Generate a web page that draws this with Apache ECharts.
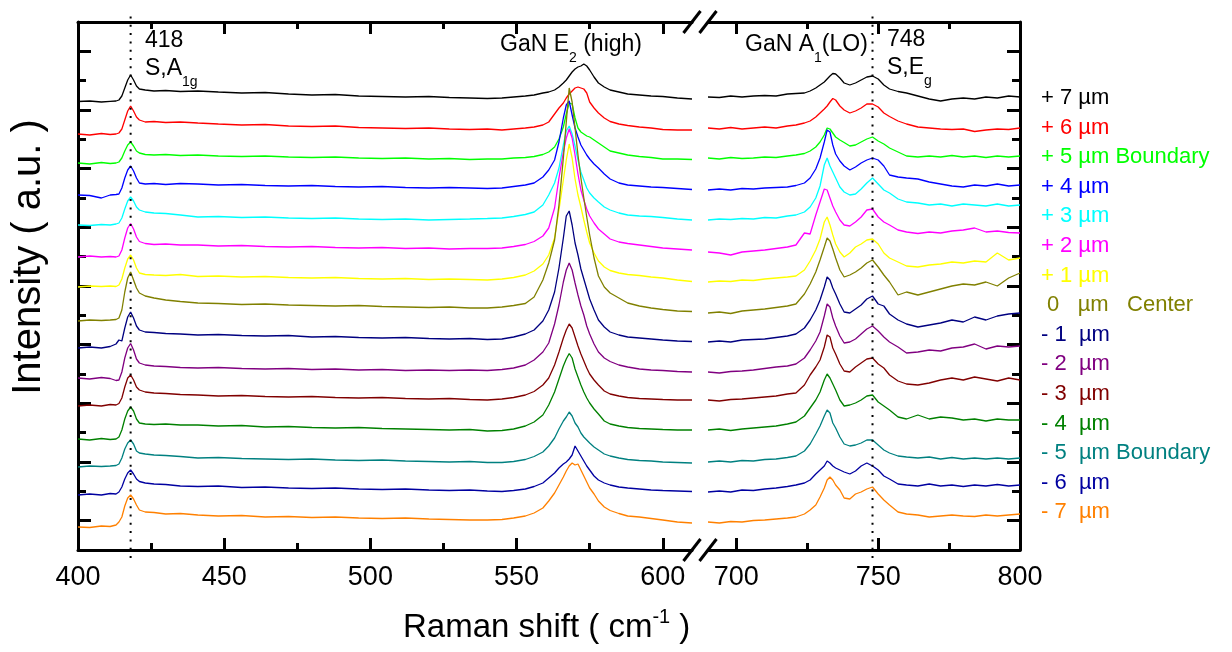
<!DOCTYPE html>
<html><head><meta charset="utf-8">
<script src="https://cdn.jsdelivr.net/npm/echarts@6/dist/echarts.min.js"></script>
<style>html,body{margin:0;padding:0;background:#fff}#c{width:1232px;height:652px}</style>
</head><body><div id="c"></div>
<script>
// ---------- data (Raman shift in cm^-1, intensity in a.u., traces stacked) ----------
const xLeft = [400,404,408,411,413,414,415,416,417,418,419,420,421,423,426,430,435,441,448,456,464,472,480,488,496,504,512,520,527,534,540,545,549,553,556,559,561,563,564.5,566,567,568,569,570,571,572,573,574,575,576.5,578,580,582,585,588,592,596,600,605,610];
const xRight = [690,694,698,702,706,710,714,718,721,724,726,728,729.5,731,732,733,734,735,736.5,738,740,742,744,746,748,750,752,754,757,760,764,768,772,776,780,784,788,792,796,800];

const traceNames = ['+ 7 µm','+ 6 µm','+ 5 µm Boundary','+ 4 µm','+ 3 µm','+ 2 µm','+ 1 µm',' 0   µm   Center','- 1  µm','- 2  µm','- 3  µm','- 4  µm','- 5  µm Boundary','- 6  µm','- 7  µm'];
const traceColors = ['#000000','#ff0000','#00ff00','#0000ff','#00ffff','#ff00ff','#ffff00','#808000','#000080','#800080','#800000','#008000','#008080','#0000a0','#ff8000'];

const p7Left = [448.5,449,448,448.7,449,450,454,462,470,475,470,464,461,460,459,459.5,458.5,459,458,457,457.5,456,455,455.5,454,453.5,453,453.5,452.5,452,451.5,452,453,454,455,457,458,460,463,467,470,474,478,481,483,484,486,484,480,473,467,463,460,458,456,455,454,453.5,452,451];
const p7Right = [453,452.5,454,453,454,454.5,454,456,456.5,457,459,462,465,468,471,474,476.5,476,472,467,465,467,470,473,474,471,465,461,458.5,457,454,451,449,451,452,451,453,452,454,453];
const p6Left = [416,415,416.5,415.5,416,417,421,430,439,444,439,433,430,428,428.5,427.5,428,427,426,425,425.5,424,423.5,424,422.5,422,421.5,422,421,420.5,421,420,421,422,423,425,428,436,442,447,452,456,459,462,463,462,461,457,448,442,437,432,428.5,426,424.5,423,422,420.5,420,420];
const p6Right = [422,421,422.5,421,422,423,422,424,425,427,429,433,437,441,444,448,451.5,450,444,440,437,439,442,446,446,443,437,433.5,429,426,423,422,421,420.5,421,418.5,420,421,420.5,422];
const p5Left = [387,386,387.5,386.5,387,388,392,399,405,408,404,399,397,395.5,395,395.5,394.5,395,394,393.5,394,393,392.5,393,392,391.5,392,391,391.5,390.5,391,391,392,392.5,393.5,395.5,398,403,411,423,436,447,446,432,422,418,416,414,413,410,407,403,399,397,395,393.5,392.5,391,391,390.5];
const p5Right = [392,391,392.5,391.5,392,393,392.5,394,395,396.5,399,403,408,415,422,421,417,413,410,407.5,404,405,408,411,413,409,406,402,398,394,393,394,393,394.5,393,394,392.5,394,393,394];
const p4Left = [355,354.5,352,355,355.5,356,362,372,380,384,379,372,367,366,366.5,365.5,366.5,366,365,365.5,364.5,364,364.5,363.5,363,363.5,362.5,362,362.5,362,361.5,362,363.5,365,367,373,380,390,408,432,445,449,435,422,413,405,400,395,391,386,382,376,371,367,365,364,363,362.5,361.5,360.5];
const p4Right = [360,361,360,361.5,361,362,362.5,363,364.5,367,372,381,392,408,420,418,405,396,389,384,380,383,387,390,392,390,384,375,373,372,371,368,366,364,363,365,364,366,364,365];
const p3Left = [325,324.5,325.5,325,326,327,332,341,349,353,349,343,340,338,337,336.5,335,333,333.5,332.5,333,332,331.5,332,331,330.5,331,330,330.5,331,331.5,332,333.5,335.5,338,345,355,367,382,405,419,424,416,404,390,378,370,362,357,352,348,343,340,337,335,334,333.5,332.5,331,330];
const p3Right = [330,331,330.5,331.5,331,332.5,332,334,335,338,343,352,364,385,392,384,378,372,363,358,355,356,361,367,372,366,360,357,351,348,347,345,346,344,346,345,344,346,344,345];
const p2Left = [293,294,293,293.5,293,294,300,312,322,326.5,321,313,308.5,306.5,305.5,306,305,305,304,304.5,303.5,303,303.5,302.5,302,302.5,301.5,302,301,301.5,301.5,302,303.5,305.5,308.5,314,322,342,372,398,412,421,412,395,376,360,350,341,334,327,321,316,311,308,306.5,305,303.5,302,301,300];
const p2Right = [298,297,295,298,299,300,301.5,303,305,317,316,335,348,361,360,352,344,338,330,325,324,328,333,340,341,333,328,325,320,318,316.5,318,317,319,320,322,318,319,317.5,317];
const p1Left = [263,264,263.5,264,263.5,265,271,282,291,295,290,282,277,275.5,275,274.5,275.5,273.5,274,273,273.5,272.5,272,272.5,271.5,271,271.5,270.5,271,270.5,270,271,272.5,275,279,286,295,312,340,370,390,406,392,371,355,343,330,318,307,297,289,283,279.5,277,275.5,274.5,273,272,270,268.5];
const p1Right = [268,269,268.5,270,269.5,271,272,273,274,280,289,300,311,328,333,325,315,306,298,293,297,303,306,310,311,306,297,292,288,284,283,285,286,288,287,289,288,297,290,292];
const zeroLeft = [229,230,229.5,230,230.5,232,240,258,272,278,270,262,257,254,252,250,248.5,247,246.5,245.5,246,245,244.5,244,244.5,243.5,243,242.5,243,242,242,243,244.5,246.5,253,270,287,310,345,392,428,462,448,422,395,372,352,333,315,292,274,263,257,252,247,244,242,240.5,239,238.5];
const zeroRight = [237,238,236.5,239,240,241,242.5,244,246,256,266,278,290,303,312,309,301,292,280,273,275,278,282,287,290,283,275,268,255,258,255,258,261,264,266,265,268,264,272,277];
const m1Left = [202,203,202,203.5,206,210,209,222,233,238,232,224,220,218,217.5,216.5,216,215,215.5,214.5,214,214.5,213,213.5,212.5,212,212.5,211.5,211,211.5,210.5,211,213,216,220,229,240,258,282,312,334,339,325,307,295,281,271,261,251,240,230,223,218,215,213,212,211,210,209,208.5];
const m1Right = [208,209,208,210,210.5,211,212.5,214,216,222,230,240,250,263,273,270,262,256,246,238,237,241,245,251,254,246,244,236,230,226,223,225,227,230,228,233,230,234,236,237];
const m2Left = [172,171,172.5,171.5,169.5,170,178,192,202,206.5,200,191,187,185,184,183.5,182.5,182,182.5,181.5,181,181.5,180.5,181,180,180.5,179.5,180,179.5,180,179.5,180.5,182,185,190,198,207,226,245,268,280,287,280,267,255,244,235,224,216,206,198,192,188.5,185,183,181,180,179.5,178.5,178];
const m2Right = [178,177,178.5,179,180,181.5,183,184,186,192,200,209,218,234,246,243,232,224,214,207,208,211,216,221,224,219,213,208,203,197,198,200,199,202,203,206,201,204,203,204];
const m3Left = [144,145,144,145.5,145,146.5,152,163,172,175,170,163,160,158,157,156.5,155.5,155,154,154.5,153.5,153,153.5,152.5,152,152.5,151.5,151,151.5,150.5,150,151,152.5,155,158.5,165,172,185,198,212,220,226,222,213,204,196,189,182,176,170,165,159,156,154,152.5,151.5,151,150.5,150,150];
const m3Right = [150,149,150.5,151,152,153,154,156,157,165,175,183,190,203,215,213,202,196,186,179,178,183,187,191,192,186,182,175,169,166,165,167,170,172,170,173,171,169,172,170];
const m4Left = [111,110,111.5,110.5,111,113,120,131,139,143,139,131,127,126,125.5,126,125,125,124,124.5,123,123.5,122.5,122,122.5,121.5,121,120.5,120,120.5,119,119.5,121,124,128,135,145,158,171,184,191,196.5,192,181,173,165,158,152,147,141,136,129,126,124,122.5,121.5,121,120.5,120,120];
const m4Right = [120,121,119.5,121,122,123,124,126,128,134,142,150,158,170,176,172,166,160,150,144,145,147,150,154,155,148,144,140,133,131,135,131,133,132,130,131,129,131,130,130];
const m5Left = [83,84,83.5,84,84.5,86,92,101,107,110,106,99,97,96,95,94.5,93.5,92,92.5,91.5,91,90.5,91,90,89.5,90,89,88.5,88,88.5,87.5,87.5,88.5,90.5,93.5,98,104,112,121,129,133,138,134,127,123,117,113,110,107,103,100,96,94,92,90.5,89.5,89,88,87.5,87];
const m5Right = [88,89,88,89.5,89,90.5,91,92.5,94,99,106,116,124,134,140,137,127,122,113,106,104,105,107,110,110,105,100,97,94,93,92,93,91,92.5,91,92,91,92,91,92];
const m6Left = [55,56,55,56.5,56,58,63,71,77,80,76,71,68.5,67,66,65.5,64,63.5,64,62.5,63,62,61.5,62,61,60.5,61,60,59.5,60,59,58.5,59.5,61,63.5,67,72,77,82,86,88,91,95,104,99,94,89,84,80,74,70,67,65,63,62,61,60,59.5,59,58.5];
const m6Right = [58,59,58,60,59.5,61,62,63.5,65,67,70,76,80,84,89,87,84,82,80,78,76,79,84,87,84,80,74,71,66,65,64,66,64,65,63.5,65,64,65.5,64,65];
const m7Left = [23,22.5,24,23.5,25,28,33,44,52,55,51,45,40,38,37.5,36,36.5,35,34,34.5,33,33.5,32.5,33,32,31.5,32,31,30.5,30,30,30.5,32,34,37,42,49,57,65,73,79,84,87,85,86,80,74,68,62,56,49,43,39.5,36.5,34,33,31.5,30,28,27];
const m7Right = [28,27,28.5,28,29.5,30,31,32,33,36,40,45,53,62,70,73,70,65,60,52,51,56,58,61,63,56,50,45,38,36,35,33,34,35,34,33.5,35,34,35,36];

// axis ticks / labels
const xLeftRange = [400, 610];
const xRightRange = [690, 800];
const xLeftMajor = [400, 450, 500, 550, 600];
const xLeftMinor = [425, 475, 525, 575];
const xRightMajor = [700, 750, 800];
const xRightMinor = [725, 775];
const yRange = [0, 528];
const yMajorSteps = [1, 3, 5, 7, 9, 11, 13, 15, 17];
const yMinorSteps = [2, 4, 6, 8, 10, 12, 14, 16];
const ySteps = 18;
const peakLeft = 418;
const peakRight = 748;
const markerSpan = [-8, 535];

// ---------- layout ----------
const FONT = '"Liberation Sans", Arial, Helvetica, sans-serif';
const G = { top: 22, bottom: 550, l0: 78, r0: 692, l1: 708, r1: 1020 };
const W = 1232, H = 652;

const leftSets = [p7Left,p6Left,p5Left,p4Left,p3Left,p2Left,p1Left,zeroLeft,m1Left,m2Left,m3Left,m4Left,m5Left,m6Left,m7Left];
const rightSets = [p7Right,p6Right,p5Right,p4Right,p3Right,p2Right,p1Right,zeroRight,m1Right,m2Right,m3Right,m4Right,m5Right,m6Right,m7Right];

const yStep = (yRange[1] - yRange[0]) / ySteps;
const yMajor = yMajorSteps.map(k => yRange[0] + k * yStep);
const yMinor = yMinorSteps.map(k => yRange[0] + k * yStep);

const lineSt = { color: '#000', width: 3 };
function xAx(grid, pos, range, ticks, len, showLine, labels) {
  return {
    type: 'value', gridIndex: grid, position: pos, min: range[0], max: range[1],
    axisLine: { show: showLine, onZero: false, lineStyle: lineSt },
    axisTick: { show: true, inside: true, length: len, customValues: ticks, lineStyle: { color: '#000', width: 3 } },
    axisLabel: labels ? { show: true, customValues: labels, fontSize: 27, color: '#000', fontFamily: FONT, margin: 14 } : { show: false },
    splitLine: { show: false }, axisPointer: { show: false }
  };
}
function yAx(grid, pos, ticks, len, showLine) {
  return {
    type: 'value', gridIndex: grid, position: pos, min: yRange[0], max: yRange[1],
    axisLine: { show: showLine, onZero: false, lineStyle: lineSt },
    axisTick: { show: true, inside: true, length: len, customValues: ticks, lineStyle: { color: '#000', width: 3 } },
    axisLabel: { show: false }, splitLine: { show: false }
  };
}

const xAxes = [
  xAx(0, 'bottom', xLeftRange, xLeftMajor, 12, true, xLeftMajor),
  xAx(0, 'bottom', xLeftRange, xLeftMinor, 7, false, null),
  xAx(0, 'top', xLeftRange, xLeftMajor, 12, true, null),
  xAx(0, 'top', xLeftRange, xLeftMinor, 7, false, null),
  xAx(1, 'bottom', xRightRange, xRightMajor, 12, true, xRightMajor),
  xAx(1, 'bottom', xRightRange, xRightMinor, 7, false, null),
  xAx(1, 'top', xRightRange, xRightMajor, 12, true, null),
  xAx(1, 'top', xRightRange, xRightMinor, 7, false, null)
];
const yAxes = [
  yAx(0, 'left', yMajor, 13, true),
  yAx(0, 'left', yMinor, 8, false),
  yAx(1, 'right', yMajor, 13, true),
  yAx(1, 'right', yMinor, 8, false)
];

const series = [];
traceNames.forEach((name, i) => {
  const base = { type: 'line', name, showSymbol: false, symbol: 'none', silent: true, animation: false,
    lineStyle: { width: 1.3, color: traceColors[i] }, itemStyle: { color: traceColors[i] } };
  series.push(Object.assign({}, base, { xAxisIndex: 0, yAxisIndex: 0, data: xLeft.map((x, j) => [x, leftSets[i][j]]) }));
  series.push(Object.assign({}, base, { xAxisIndex: 4, yAxisIndex: 2, data: xRight.map((x, j) => [x, rightSets[i][j]]) }));
});
const dotStyle = { color: '#000', width: 2, type: [2, 6.3] };
series.push({ type: 'line', xAxisIndex: 0, yAxisIndex: 0, clip: false, symbol: 'none', silent: true, animation: false,
  data: [[peakLeft, markerSpan[0]], [peakLeft, markerSpan[1]]], lineStyle: dotStyle });
series.push({ type: 'line', xAxisIndex: 4, yAxisIndex: 2, clip: false, symbol: 'none', silent: true, animation: false,
  data: [[peakRight, markerSpan[0]], [peakRight, markerSpan[1]]], lineStyle: dotStyle });

// break marks "//"
const breakMarks = [];
[G.top, G.bottom].forEach(cy => [G.r0, G.l1].forEach(cx => breakMarks.push({
  type: 'line', z: 100, shape: { x1: cx - 8.5, y1: cy + 11, x2: cx + 8.5, y2: cy - 11 },
  style: { stroke: '#000', lineWidth: 3 }
})));

const richAnn = {
  m: { fontSize: 23, lineHeight: 44, fontFamily: FONT, fill: '#000' },
  s: { fontSize: 14, lineHeight: 14, padding: [26, 0, 0, 0], fontFamily: FONT, fill: '#000' }
};
function ann(x, y, text) {
  return { type: 'text', x, y, z: 100, style: { text, rich: richAnn, fontSize: 23, fontFamily: FONT, fill: '#000', verticalAlign: 'middle', align: 'left' } };
}

const graphics = breakMarks.concat([
  ann(145, 41, '{m|418}'),
  ann(145, 69, '{m|S,A}{s|1g}'),
  ann(500, 45, '{m|GaN E}{s|2}{m| (high)}'),
  ann(745, 45, '{m|GaN A}{s|1}{m|(LO)}'),
  ann(887, 40, '{m|748}'),
  ann(887, 68, '{m|S,E}{s|g}'),
  { type: 'text', x: 403, y: 628, z: 100, style: {
      text: '{a|Raman shift ( cm}{b|-1}{a| )}', verticalAlign: 'middle', align: 'left',
      rich: { a: { fontSize: 33, lineHeight: 50, fontFamily: FONT, fill: '#000' },
              b: { fontSize: 20, lineHeight: 20, padding: [0, 0, 22, 0], fontFamily: FONT, fill: '#000' } } } },
  { type: 'text', x: 29, y: 257, rotation: Math.PI / 2, z: 100, style: {
      text: 'Intensity ( a.u. )', fontSize: 40, fontFamily: FONT, fill: '#000', align: 'center', verticalAlign: 'middle' } }
]);

const chart = echarts.init(document.getElementById('c'), null, { renderer: 'canvas', width: W, height: H });
chart.setOption({
  backgroundColor: '#fff',
  animation: false,
  grid: [
    { left: G.l0, top: G.top, width: G.r0 - G.l0, height: G.bottom - G.top, containLabel: false, outerBoundsMode: 'none' },
    { left: G.l1, top: G.top, width: G.r1 - G.l1, height: G.bottom - G.top, containLabel: false, outerBoundsMode: 'none' }
  ],
  xAxis: xAxes,
  yAxis: yAxes,
  legend: {
    orient: 'vertical', left: 1035, top: 87, padding: 0, itemGap: 7.6, itemWidth: 0, itemHeight: 0,
    selectedMode: false, itemStyle: { opacity: 0 }, lineStyle: { opacity: 0 },
    textStyle: { fontSize: 22, lineHeight: 22, fontFamily: FONT },
    data: traceNames.map((n, i) => ({ name: n, textStyle: { color: traceColors[i] } }))
  },
  series,
  graphic: graphics
});
</script>
</body></html>
